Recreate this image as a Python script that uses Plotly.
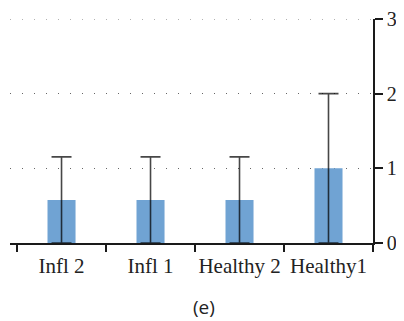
import plotly.graph_objects as go

categories = ["Infl 2", "Infl 1", "Healthy 2", "Healthy1"]
means = [0.577, 0.577, 0.577, 1.0]
errors = [0.577, 0.577, 0.577, 1.0]
y_ticks = [0, 1, 2, 3]

fig = go.Figure()
fig.add_trace(go.Bar(
    x=categories, y=means, width=0.315,
    marker=dict(color="#70a3d3", line=dict(width=0)),
    error_y=dict(type="data", array=errors, symmetric=True,
                 color="rgba(0,0,0,0.72)", thickness=1.6, width=10),
))

serif = "Liberation Serif, Times New Roman, serif"
# page body has an 8px default margin; figure is offset accordingly
fig.update_layout(
    width=396, height=313,
    margin=dict(l=2, r=31, t=11, b=78),
    paper_bgcolor="white", plot_bgcolor="white",
    showlegend=False,
    xaxis=dict(
        type="category", range=[-0.579, 3.5], automargin=False,
        showline=True, linecolor="#1a1a1a", linewidth=1.5,
        ticks="outside", tickson="boundaries", ticklen=7,
        tickcolor="#1a1a1a", tickwidth=1.5, tickangle=0,
        ticklabelstandoff=3,
        showgrid=False,
        tickfont=dict(family=serif, size=21, color="#222"),
    ),
    yaxis=dict(
        side="right", range=[0, 3], automargin=False,
        tickvals=y_ticks, tickprefix="\u2004",
        showline=True, linecolor="#1a1a1a", linewidth=1.5,
        ticks="outside", ticklen=8, tickcolor="#1a1a1a", tickwidth=1.5,
        showgrid=True, gridcolor="#666", gridwidth=1, griddash="1px,11px",
        zeroline=False,
        tickfont=dict(family=serif, size=20, color="#222"),
    ),
    shapes=[dict(
        type="line", xref="paper", yref="y", x0=0, x1=1, y0=y_ticks[-1], y1=y_ticks[-1],
        line=dict(color="#666", width=1, dash="1px,11px"), layer="below",
    )],
    annotations=[dict(
        text="(e)", x=0.534, y=-0.286, xref="paper", yref="paper",
        xanchor="center", yanchor="middle", showarrow=False,
        font=dict(family="Open Sans, Noto Sans, sans-serif", size=19, color="#222"),
    )],
)

fig.write_html("out.html")
